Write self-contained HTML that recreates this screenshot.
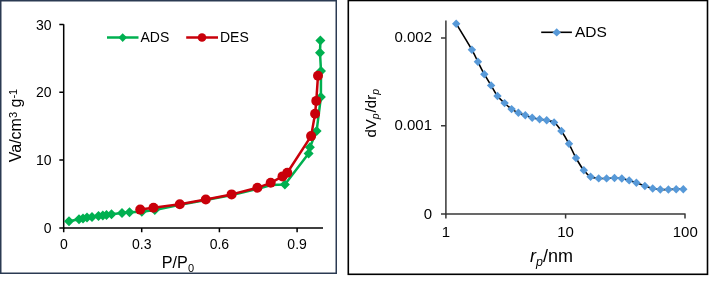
<!DOCTYPE html>
<html><head><meta charset="utf-8"><style>
html,body{margin:0;padding:0;background:#fff;}
body{width:709px;height:281px;overflow:hidden;}
svg{display:block;will-change:transform;font-family:"Liberation Sans",sans-serif;}
</style></head><body>
<svg width="709" height="281" viewBox="0 0 709 281">
<rect x="0.75" y="0.75" width="335.5" height="272.5" fill="none" stroke="#2B3A52" stroke-width="1.5"/>
<g stroke="#000" stroke-width="1.5" fill="none">
<path d="M63.7 24.3V228.8M59.3 24.4H63.7M59.3 92.3H63.7M59.3 160.1H63.7"/>
<path d="M59.3 228.1H323M63.7 228.1V232.3M141.7 228.1V232.3M219.4 228.1V232.3M297.1 228.1V232.3"/>
</g>
<g font-size="14" fill="#000" text-anchor="end">
<text x="51.5" y="29.5">30</text>
<text x="51.5" y="97.3">20</text>
<text x="51.5" y="165.1">10</text>
<text x="51.5" y="233.0">0</text>
</g>
<g font-size="14" fill="#000" text-anchor="middle">
<text x="64" y="249">0</text>
<text x="141.7" y="249">0.3</text>
<text x="219.4" y="249">0.6</text>
<text x="297.1" y="249">0.9</text>
</g>
<text x="161.8" y="267.6" font-size="16.2" fill="#000">P/P<tspan font-size="11" dy="4">0</tspan></text>
<text transform="translate(21,125.5) rotate(-90)" font-size="16" fill="#000" text-anchor="middle">Va/cm<tspan font-size="11" dy="-4">3</tspan><tspan dy="4"> g</tspan><tspan font-size="11" dy="-4.3">-1</tspan></text>
<polyline points="69.0,221.2 79.0,219.2 83.0,218.5 87.0,217.5 92.0,217.0 98.5,216.0 102.8,215.5 106.5,215.0 111.5,214.2 122.0,213.0 129.5,212.3 141.8,211.8 154.8,210.0 180.0,204.8 206.0,200.0 232.0,195.0 258.0,188.8 271.0,185.0 284.9,184.5 308.6,153.5 309.9,147.3 316.6,131.1 320.9,97.0 321.0,71.0 320.0,52.8 320.4,40.4" fill="none" stroke="#00B050" stroke-width="2.5" stroke-linejoin="round"/>
<g fill="#00B050"><path d="M69.0 216.2L74.0 221.2L69.0 226.2L64.0 221.2Z"/><path d="M79.0 214.2L84.0 219.2L79.0 224.2L74.0 219.2Z"/><path d="M83.0 213.5L88.0 218.5L83.0 223.5L78.0 218.5Z"/><path d="M87.0 212.5L92.0 217.5L87.0 222.5L82.0 217.5Z"/><path d="M92.0 212.0L97.0 217.0L92.0 222.0L87.0 217.0Z"/><path d="M98.5 211.0L103.5 216.0L98.5 221.0L93.5 216.0Z"/><path d="M102.8 210.5L107.8 215.5L102.8 220.5L97.8 215.5Z"/><path d="M106.5 210.0L111.5 215.0L106.5 220.0L101.5 215.0Z"/><path d="M111.5 209.2L116.5 214.2L111.5 219.2L106.5 214.2Z"/><path d="M122.0 208.0L127.0 213.0L122.0 218.0L117.0 213.0Z"/><path d="M129.5 207.3L134.5 212.3L129.5 217.3L124.5 212.3Z"/><path d="M141.8 206.8L146.8 211.8L141.8 216.8L136.8 211.8Z"/><path d="M154.8 205.0L159.8 210.0L154.8 215.0L149.8 210.0Z"/><path d="M284.9 179.5L289.9 184.5L284.9 189.5L279.9 184.5Z"/><path d="M308.6 148.5L313.6 153.5L308.6 158.5L303.6 153.5Z"/><path d="M309.9 142.3L314.9 147.3L309.9 152.3L304.9 147.3Z"/><path d="M316.6 126.1L321.6 131.1L316.6 136.1L311.6 131.1Z"/><path d="M320.9 92.0L325.9 97.0L320.9 102.0L315.9 97.0Z"/><path d="M321.0 66.0L326.0 71.0L321.0 76.0L316.0 71.0Z"/><path d="M320.0 47.8L325.0 52.8L320.0 57.8L315.0 52.8Z"/><path d="M320.4 35.4L325.4 40.4L320.4 45.4L315.4 40.4Z"/></g>
<polyline points="140.2,209.6 153.5,207.8 179.8,204.2 205.8,199.5 231.6,194.4 257.4,187.8 270.7,182.8 282.5,176.4 287.3,172.8 311.1,136.1 315.1,113.7 316.3,100.9 318.0,75.7" fill="none" stroke="#C9000A" stroke-width="2.5" stroke-linejoin="round"/>
<g fill="#C9000A"><circle cx="140.2" cy="209.6" r="5"/><circle cx="153.5" cy="207.8" r="5"/><circle cx="179.8" cy="204.2" r="5"/><circle cx="205.8" cy="199.5" r="5"/><circle cx="231.6" cy="194.4" r="5"/><circle cx="257.4" cy="187.8" r="5"/><circle cx="270.7" cy="182.8" r="5"/><circle cx="282.5" cy="176.4" r="5"/><circle cx="287.3" cy="172.8" r="5"/><circle cx="311.1" cy="136.1" r="5"/><circle cx="315.1" cy="113.7" r="5"/><circle cx="316.3" cy="100.9" r="5"/><circle cx="318" cy="75.7" r="5"/></g>
<path d="M107 37.5H138.5" stroke="#00B050" stroke-width="2.5"/>
<g fill="#00B050"><path d="M122.7 33.3L127.0 37.6L122.7 41.9L118.4 37.6Z"/></g>
<text x="140.5" y="41.8" font-size="14" fill="#000">ADS</text>
<path d="M186.2 37.5H218" stroke="#C9000A" stroke-width="2.5"/>
<circle cx="202" cy="37.5" r="4.3" fill="#C9000A"/>
<text x="220" y="41.8" font-size="14" fill="#000">DES</text>
<rect x="348.3" y="0.5" width="359.2" height="273.8" fill="none" stroke="#000" stroke-width="1.6"/>
<g stroke="#383838" stroke-width="1.5" fill="none">
<path d="M445.9 20.5V214.5M441 37.9H445.9M441 125.8H445.9M441 214.1H445.9"/>
<path d="M445 214.1H685.6M445.9 214.1V218.4M565.6 214.1V218.4M685 214.1V218.4"/>
</g>
<g font-size="15" fill="#000" text-anchor="end">
<text x="432" y="42.1">0.002</text>
<text x="432" y="130.0">0.001</text>
<text x="432" y="218.8">0</text>
</g>
<g font-size="15" fill="#000" text-anchor="middle">
<text x="445.8" y="237.3">1</text>
<text x="565.6" y="237.3">10</text>
<text x="685.3" y="237.3">100</text>
</g>
<text x="530" y="262.3" font-size="18" fill="#000"><tspan font-style="italic">r</tspan><tspan font-size="12.5" font-style="italic" dy="4">p</tspan><tspan dy="-4">/nm</tspan></text>
<text transform="translate(375.5,113.3) rotate(-90)" font-size="15" fill="#000" text-anchor="middle">dV<tspan font-size="10.5" font-style="italic" dy="3.5">p</tspan><tspan dy="-3.5" dx="1">/dr</tspan><tspan font-size="10.5" font-style="italic" dy="3.5">p</tspan></text>
<path d="M456.2 23.7C458.8 28.0 468.3 43.4 471.9 49.8C475.5 56.1 475.8 57.7 477.9 61.8C480.0 65.9 482.1 70.3 484.3 74.2C486.5 78.1 488.9 81.8 491.1 85.4C493.3 89.0 495.2 93.0 497.5 96.0C499.8 99.0 502.2 100.9 504.6 103.1C507.0 105.3 509.3 107.5 511.6 109.1C513.9 110.7 516.1 111.7 518.4 112.7C520.7 113.7 523.0 114.5 525.3 115.3C527.6 116.1 529.8 117.1 532.2 117.8C534.6 118.5 537.2 118.8 539.6 119.2C542.0 119.6 544.3 119.8 546.7 120.3C549.1 120.8 551.7 120.6 554.1 122.4C556.5 124.2 558.9 127.4 561.4 131.0C563.9 134.6 566.6 139.3 569.0 143.8C571.4 148.3 573.5 153.6 576.0 158.0C578.5 162.4 581.4 167.2 583.8 170.3C586.2 173.4 588.1 175.3 590.6 176.7C593.1 178.0 596.0 178.1 598.7 178.4C601.4 178.7 604.0 178.5 606.6 178.4C609.2 178.3 612.0 178.0 614.5 178.0C617.0 178.0 619.3 178.1 621.8 178.5C624.2 178.9 626.8 179.7 629.2 180.4C631.6 181.1 633.8 181.9 636.4 182.8C639.0 183.7 642.2 185.1 644.9 186.0C647.6 186.9 650.1 187.9 652.7 188.5C655.3 189.1 657.7 189.3 660.3 189.5C662.9 189.7 665.8 189.6 668.4 189.5C671.0 189.4 673.7 189.2 676.2 189.2C678.7 189.1 682.1 189.2 683.3 189.2" fill="none" stroke="#000" stroke-width="1.6"/>
<g fill="#5799D8"><path d="M456.2 19.5L460.4 23.7L456.2 27.9L452.0 23.7Z"/><path d="M471.9 45.6L476.1 49.8L471.9 54.0L467.7 49.8Z"/><path d="M477.9 57.6L482.1 61.8L477.9 66.0L473.7 61.8Z"/><path d="M484.3 70.0L488.5 74.2L484.3 78.4L480.1 74.2Z"/><path d="M491.1 81.2L495.3 85.4L491.1 89.6L486.9 85.4Z"/><path d="M497.5 91.8L501.7 96.0L497.5 100.2L493.3 96.0Z"/><path d="M504.6 98.9L508.8 103.1L504.6 107.3L500.4 103.1Z"/><path d="M511.6 104.9L515.8 109.1L511.6 113.3L507.4 109.1Z"/><path d="M518.4 108.5L522.6 112.7L518.4 116.9L514.2 112.7Z"/><path d="M525.3 111.1L529.5 115.3L525.3 119.5L521.1 115.3Z"/><path d="M532.2 113.6L536.4 117.8L532.2 122.0L528.0 117.8Z"/><path d="M539.6 115.0L543.8 119.2L539.6 123.4L535.4 119.2Z"/><path d="M546.7 116.1L550.9 120.3L546.7 124.5L542.5 120.3Z"/><path d="M554.1 118.2L558.3 122.4L554.1 126.6L549.9 122.4Z"/><path d="M561.4 126.8L565.6 131.0L561.4 135.2L557.2 131.0Z"/><path d="M569.0 139.6L573.2 143.8L569.0 148.0L564.8 143.8Z"/><path d="M576.0 153.8L580.2 158.0L576.0 162.2L571.8 158.0Z"/><path d="M583.8 166.1L588.0 170.3L583.8 174.5L579.6 170.3Z"/><path d="M590.6 172.5L594.8 176.7L590.6 180.9L586.4 176.7Z"/><path d="M598.7 174.2L602.9 178.4L598.7 182.6L594.5 178.4Z"/><path d="M606.6 174.2L610.8 178.4L606.6 182.6L602.4 178.4Z"/><path d="M614.5 173.8L618.7 178.0L614.5 182.2L610.3 178.0Z"/><path d="M621.8 174.3L626.0 178.5L621.8 182.7L617.6 178.5Z"/><path d="M629.2 176.2L633.4 180.4L629.2 184.6L625.0 180.4Z"/><path d="M636.4 178.6L640.6 182.8L636.4 187.0L632.2 182.8Z"/><path d="M644.9 181.8L649.1 186.0L644.9 190.2L640.7 186.0Z"/><path d="M652.7 184.3L656.9 188.5L652.7 192.7L648.5 188.5Z"/><path d="M660.3 185.3L664.5 189.5L660.3 193.7L656.1 189.5Z"/><path d="M668.4 185.3L672.6 189.5L668.4 193.7L664.2 189.5Z"/><path d="M676.2 185.0L680.4 189.2L676.2 193.4L672.0 189.2Z"/><path d="M683.3 185.0L687.5 189.2L683.3 193.4L679.1 189.2Z"/></g>
<path d="M541.2 32.3H571.9" stroke="#000" stroke-width="1.6"/>
<g fill="#5799D8"><path d="M556.7 28.2L560.9 32.4L556.7 36.6L552.5 32.4Z"/></g>
<text x="574.9" y="37.1" font-size="15.5" fill="#000">ADS</text>
</svg>
</body></html>
